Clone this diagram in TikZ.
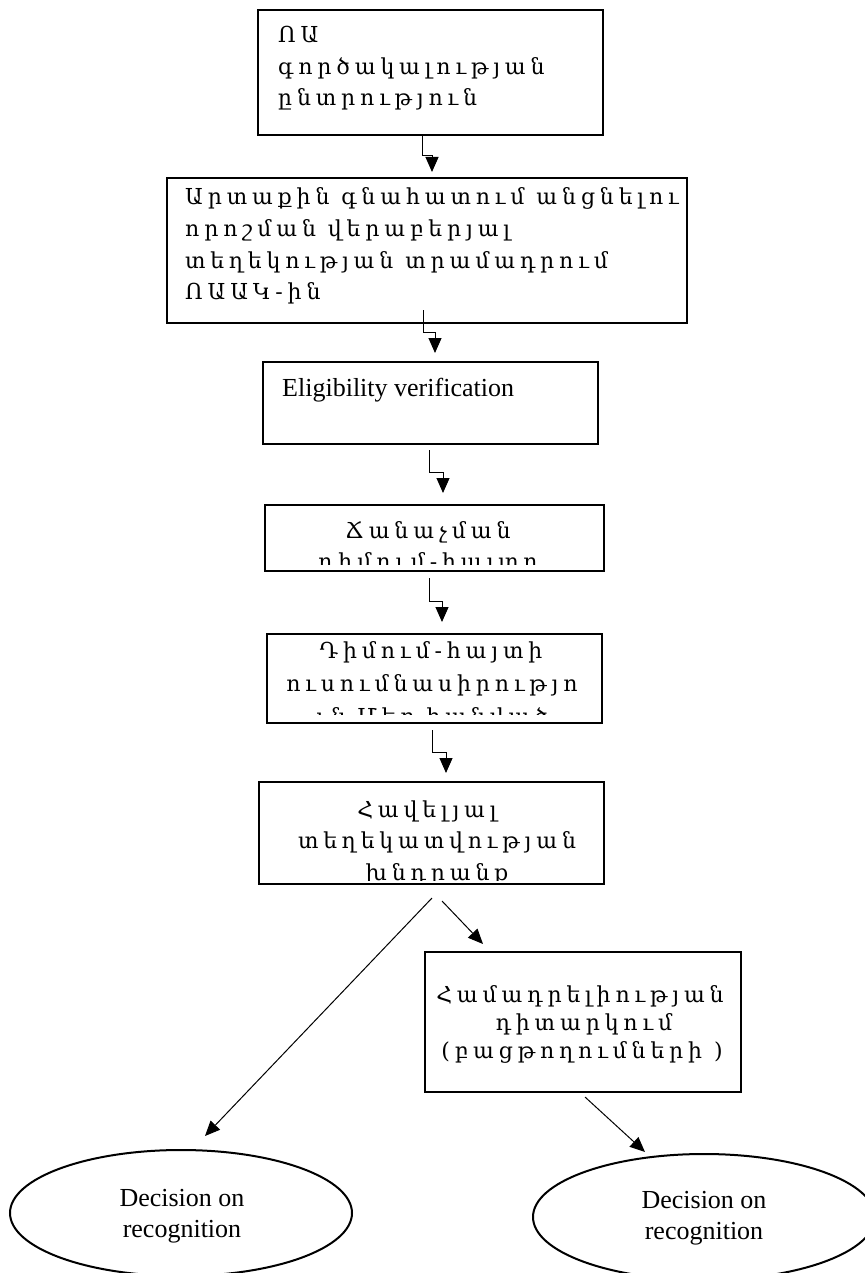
\documentclass[tikz,border=0pt]{standalone}
\usepackage{fontspec}
\setmainfont{Liberation Serif}
\newfontfamily\armf[LetterSpace=22]{DejaVu Serif}
\usetikzlibrary{arrows.meta,shapes.geometric}
\tikzset{
  box/.style={draw, line width=1.2pt, inner sep=0pt},
  thickbox/.style={draw, line width=2.8pt, inner sep=0pt},
  conn/.style={line width=1pt, -{Triangle[length=15pt,width=13pt]}},
  arm/.style={font=\armf\fontsize{22}{26}\selectfont, inner sep=0pt},
  eng/.style={font=\fontsize{26}{30}\selectfont, inner sep=0pt},
  oval/.style={draw, ellipse, line width=2pt, minimum width=342pt, minimum height=126pt, inner sep=0pt}
}
\begin{document}
\begin{tikzpicture}[x=1pt,y=-1pt]
\useasboundingbox (0,0) rectangle (864,1273);
% boxes
\node[box, minimum width=345pt, minimum height=125pt] (b1) at (430.5,72.5) {};
\node[box, minimum width=520pt, minimum height=145pt] (b2) at (427,250.5) {};
\node[box, minimum width=335pt, minimum height=82pt] (b3) at (430.5,403) {};
\node[box, minimum width=339pt, minimum height=66pt] (b4) at (434.5,538) {};
\node[box, minimum width=335pt, minimum height=89pt] (b5) at (434.5,678.5) {};
\node[thickbox, minimum width=345pt, minimum height=102pt] (b6) at (431.5,833) {};
\node[thickbox, minimum width=316pt, minimum height=140pt] (b7) at (583,1022) {};
\node[oval] (e1) at (181,1213) {};
\node[oval] (e2) at (704,1217) {};
% texts
\node[arm, anchor=base west] (t1a) at (278,43) {ՈԱ};
\node[arm, anchor=base west] (t1b) at (278,74.5) {գործակալության};
\node[arm, anchor=base west] (t1c) at (278,106) {ընտրություն};
\node[arm, anchor=base west] (t2a) at (185,205) {Արտաքին գնահատում անցնելու};
\node[arm, anchor=base west] (t2b) at (185,236.5) {որոշման վերաբերյալ};
\node[arm, anchor=base west] (t2c) at (185,268) {տեղեկության տրամադրում};
\node[arm, anchor=base west] (t2d) at (185,299.5) {ՈԱԱԿ-ին};
\node[eng, anchor=base west] (t3a) at (282,396) {Eligibility verification};
\begin{scope}
\clip (265,505) rectangle (604,564);
\node[arm, anchor=base] (t4a) at (428,538) {Ճանաչման};
\node[arm, anchor=base] (t4b) at (428,569) {դիմում-հայտը};
\end{scope}
\begin{scope}
\clip (267,634) rectangle (602,714);
\node[arm, anchor=base] (t5a) at (431,658) {Դիմում-հայտի};
\node[arm, anchor=base] (t5b) at (432,691) {ուսումնասիրությո};
\node[arm, anchor=base] (t5c) at (432,724) {ւն Մեր հանված};
\end{scope}
\begin{scope}
\clip (259,782) rectangle (604,880);
\node[arm, anchor=base] (t6a) at (427,817) {Հավելյալ};
\node[arm, anchor=base] (t6b) at (437,848) {տեղեկատվության};
\node[arm, anchor=base] (t6c) at (437,880) {խնդրանք};
\end{scope}
\node[arm, anchor=base] (t7a) at (580,1002) {Համադրելիության};
\node[arm, anchor=base] (t7b) at (584,1030) {դիտարկում};
\node[arm, anchor=base] (t7c) at (582,1058) {(բացթողումների )};
\node[eng, anchor=base] (t8a) at (182,1206) {Decision on};
\node[eng, anchor=base] (t8b) at (182,1237) {recognition};
\node[eng, anchor=base] (t9a) at (704,1208) {Decision on};
\node[eng, anchor=base] (t9b) at (704,1239) {recognition};
% connectors
\coordinate (c1a) at (422,135); \coordinate (c1b) at (432,172);
\coordinate (c2a) at (423,310); \coordinate (c2b) at (435,353);
\coordinate (c3a) at (429,450); \coordinate (c3b) at (443,493);
\coordinate (c4a) at (429,578); \coordinate (c4b) at (442,622);
\coordinate (c5a) at (432,730); \coordinate (c5b) at (446,773);
\draw[conn] (c1a) -- ++(0,21) -| (c1b);
\draw[conn] (c2a) -- ++(0,22) -| (c2b);
\draw[conn] (c3a) -- ++(0,22) -| (c3b);
\draw[conn] (c4a) -- ++(0,23) -| (c4b);
\draw[conn] (c5a) -- ++(0,22) -| (c5b);
\coordinate (d1a) at (432,898); \coordinate (d1b) at (205,1136);
\coordinate (d2a) at (442,901); \coordinate (d2b) at (483,944);
\coordinate (d3a) at (585,1097); \coordinate (d3b) at (645,1152);
\draw[conn] (d1a) -- (d1b);
\draw[conn] (d2a) -- (d2b);
\draw[conn] (d3a) -- (d3b);
\end{tikzpicture}
\end{document}
